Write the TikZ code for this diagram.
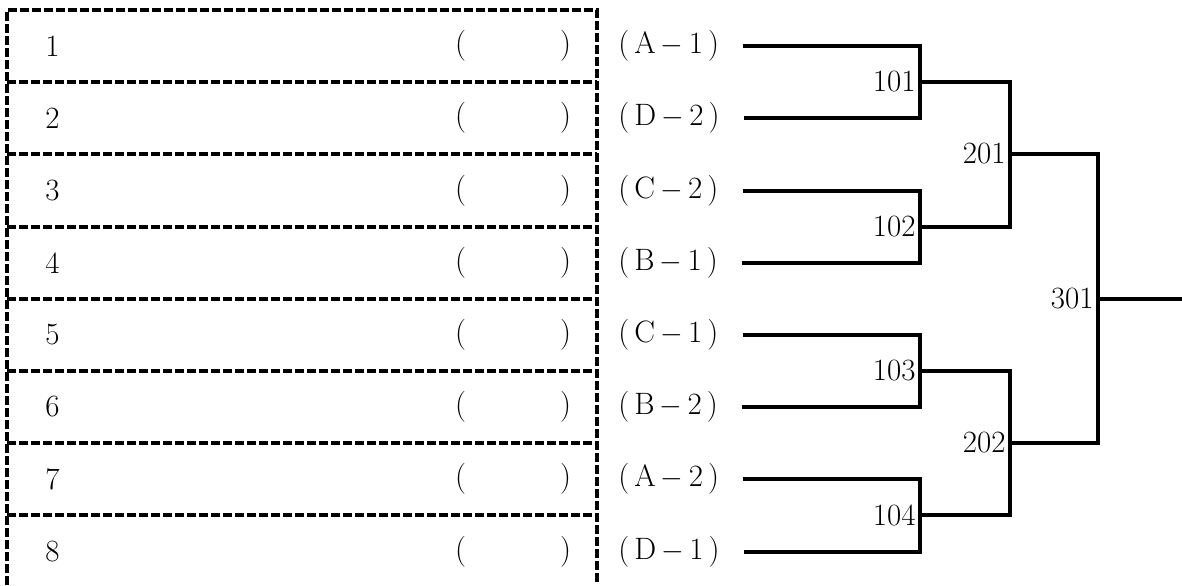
\documentclass[tikz,border=0pt]{standalone}
\usepackage{tikz}

\begin{document}
\begin{tikzpicture}[
    x=0.025cm, y=-0.025cm,
    every node/.style={font=\fontsize{22}{26}\selectfont},
    cut/.style={draw, line width=2.3pt, dash pattern=on 0.22cm off 0.08cm},
    num/.style={anchor=west, inner sep=0pt},
    blank/.style={inner sep=0pt},
    seed/.style={anchor=west, inner sep=0pt},
    tie/.style={draw, line width=2.2pt},
    win/.style={anchor=east, inner sep=3pt}
]
\useasboundingbox (0,0) rectangle (1182,585);

% Tableau des noms
\draw[cut] (7,585) -- (7,10) -- (597,10) -- (597,585);
\draw[cut] (7, 82) -- (597, 82);
\draw[cut] (7,154) -- (597,154);
\draw[cut] (7,227) -- (597,227);
\draw[cut] (7,299) -- (597,299);
\draw[cut] (7,371) -- (597,371);
\draw[cut] (7,443) -- (597,443);
\draw[cut] (7,515) -- (597,515);

\node[num] (n1) at (45, 46) {1};
\node[num] (n2) at (45,118) {2};
\node[num] (n3) at (45,191) {3};
\node[num] (n4) at (45,263) {4};
\node[num] (n5) at (45,335) {5};
\node[num] (n6) at (45,407) {6};
\node[num] (n7) at (45,479) {7};
\node[num] (n8) at (45,552) {8};

\node[blank] (p1) at (513, 46) {(\hspace{2.35cm})};
\node[blank] (p2) at (513,118) {(\hspace{2.35cm})};
\node[blank] (p3) at (513,191) {(\hspace{2.35cm})};
\node[blank] (p4) at (513,263) {(\hspace{2.35cm})};
\node[blank] (p5) at (513,335) {(\hspace{2.35cm})};
\node[blank] (p6) at (513,407) {(\hspace{2.35cm})};
\node[blank] (p7) at (513,479) {(\hspace{2.35cm})};
\node[blank] (p8) at (513,552) {(\hspace{2.35cm})};

% Têtes de série
\node[seed] (s1) at (618, 46) {(\,A\,$-$\,1\,)};
\node[seed] (s2) at (618,118) {(\,D\,$-$\,2\,)};
\node[seed] (s3) at (618,191) {(\,C\,$-$\,2\,)};
\node[seed] (s4) at (618,263) {(\,B\,$-$\,1\,)};
\node[seed] (s5) at (618,335) {(\,C\,$-$\,1\,)};
\node[seed] (s6) at (618,407) {(\,B\,$-$\,2\,)};
\node[seed] (s7) at (618,479) {(\,A\,$-$\,2\,)};
\node[seed] (s8) at (618,552) {(\,D\,$-$\,1\,)};

% Tableau des matchs
\coordinate (j101) at (920, 82);
\coordinate (j102) at (920,227);
\coordinate (j103) at (920,371);
\coordinate (j104) at (920,515);
\coordinate (j201) at (1010,154);
\coordinate (j202) at (1010,443);
\coordinate (j301) at (1098,299);
\coordinate (final) at (1182,299);

\draw[tie] ([xshift=0.6cm]s1.east) -| (j101) |- ([xshift=0.6cm]s2.east);
\draw[tie] ([xshift=0.6cm]s3.east) -| (j102) |- ([xshift=0.6cm]s4.east);
\draw[tie] ([xshift=0.6cm]s5.east) -| (j103) |- ([xshift=0.6cm]s6.east);
\draw[tie] ([xshift=0.6cm]s7.east) -| (j104) |- ([xshift=0.6cm]s8.east);
\draw[tie] (j101) -| (j201) |- (j102);
\draw[tie] (j103) -| (j202) |- (j104);
\draw[tie] (j201) -| (j301) |- (j202);
\draw[tie] (j301) -- (final);

\node[win] (w101) at (j101) {101};
\node[win] (w102) at (j102) {102};
\node[win] (w103) at (j103) {103};
\node[win] (w104) at (j104) {104};
\node[win] (w201) at (j201) {201};
\node[win] (w202) at (j202) {202};
\node[win] (w301) at (j301) {301};
\end{tikzpicture}
\end{document}
